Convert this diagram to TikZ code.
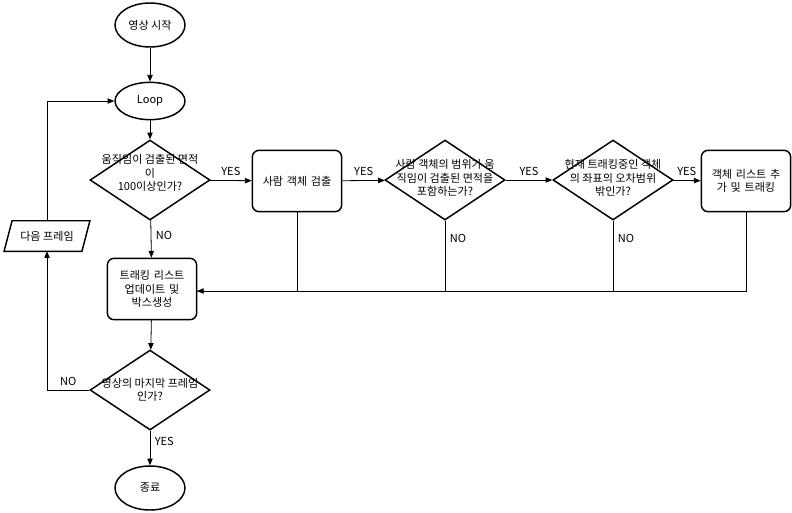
\documentclass[tikz,border=0pt]{standalone}
\usepackage{fontspec}
\setmainfont{Noto Sans CJK KR}
\usetikzlibrary{shapes.geometric,arrows.meta}
\begin{document}
\begin{tikzpicture}[x=0.75pt,y=-0.75pt,
  every node/.style={font=\fontsize{8.3}{10}\selectfont,align=center},
  base/.style={draw,line width=1.1pt,inner sep=0pt},
  term/.style={base,ellipse,minimum width=52.5pt,minimum height=33pt},
  proc/.style={base,rounded corners=5pt,minimum width=67pt,minimum height=46pt,text width=62pt},
  dec/.style={base,diamond,minimum width=90pt,minimum height=60pt},
  ar/.style={draw,line width=0.6pt,-{Triangle[length=5pt,width=4pt]}},
  ln/.style={draw,line width=0.6pt},
  lab/.style={font=\fontsize{8.3}{9}\selectfont}]
\useasboundingbox (0,0) rectangle (792,512);
\node[term] (start) at (150,25) {영상 시작};
\node[term,minimum height=28pt] (loop) at (150,101) {Loop};
\node[dec] (d1) at (150,180) {};
\node at (150,173) {움직임이 검출된 면적\\이\\100이상인가?};
\node[proc] (p1) at (297,181) {사람 객체 검출};
\node[dec] (d2) at (445,180) {};
\node at (445,178) {사람 객체의 범위가 움\\직임이 검출된 면적을\\포함하는가?};
\node[dec] (d3) at (613,180) {};
\node at (613,178) {현재 트래킹중인 객체\\의 좌표의 오차범위\\밖인가?};
\node[proc] (p2) at (746,181) {객체 리스트 추\\가 및 트래킹};
\node[proc] (p3) at (152,289) {트래킹 리스트\\업데이트 및\\박스생성};
\node[dec] (d4) at (150,390) {};
\node at (150,390) {영상의 마지막 프레임\\인가?};
\node[term] (end) at (150,488) {종료};
\node[minimum width=64pt,minimum height=22.5pt,inner sep=0pt] (nf) at (47,236) {다음 프레임};
\draw[line width=1.1pt] ([xshift=6pt]nf.north west) -- (nf.north east) -- ([xshift=-6pt]nf.south east) -- (nf.south west) -- cycle;
\coordinate (m) at (197,291);
\path[ar] (start) -- (loop);
\path[ar] (loop) -- (d1);
\path[ar] (d1) -- node[lab,above]{YES} (p1);
\path[ar] (p1) -- node[lab,above]{YES} (d2);
\path[ar] (d2) -- node[lab,above]{YES} (d3);
\path[ar] (d3) -- node[lab,above]{YES} (p2);
\path[ar] (d1) -- node[lab,pos=0.4,right]{NO} (p3);
\path[ln] (p1.south) |- (m);
\path[ln] (d2.south) -- node[lab,pos=0.25,right]{NO} (445,291);
\path[ln] (d3.south) -- node[lab,pos=0.25,right]{NO} (613,291);
\path[ar] (p2.south) |- (m);
\path[ar] (p3) -- (d4);
\path[ar] (d4) -- node[lab,pos=0.3,right]{YES} (end);
\path[ar] (d4.west) -- node[lab,above]{NO} (47,390) -- (nf.south);
\path[ar] (nf.north) |- (loop.west);
\end{tikzpicture}
\end{document}
